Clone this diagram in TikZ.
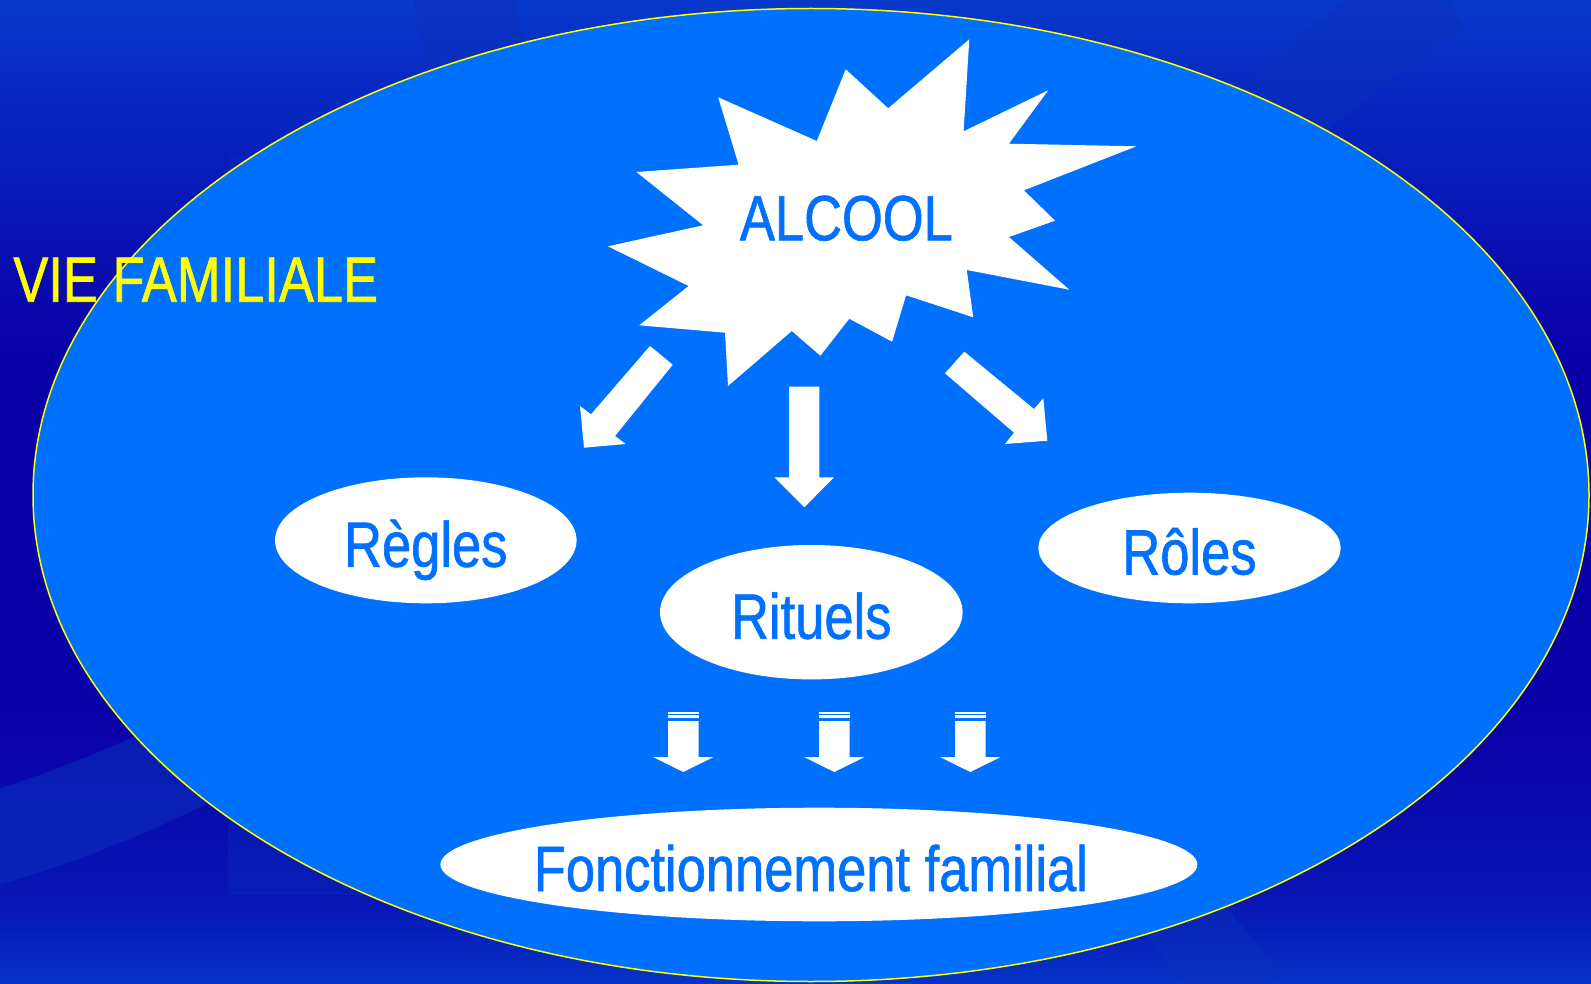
\documentclass[tikz,border=0pt]{standalone}
\usepackage{fontspec}
\newfontfamily\slidefont[FakeStretch=0.82, FakeBold=1]{Liberation Sans}
\usepackage{tikz}
\usetikzlibrary{shapes.geometric}
\usepackage{xcolor}
\definecolor{slideblue}{RGB}{0, 112, 255}
\definecolor{bgtop}{RGB}{6, 56, 200}
\definecolor{bgupper}{RGB}{8, 30, 188}
\definecolor{bgmid}{RGB}{10, 0, 168}
\definecolor{bglower}{RGB}{8, 22, 180}
\definecolor{bgbot}{RGB}{5, 52, 198}
\definecolor{bandblue}{RGB}{10, 48, 186}
\definecolor{titleyellow}{RGB}{255, 255, 0}
\pgfdeclareverticalshading{slidebg}{100bp}{color(0bp)=(bgbot); color(25bp)=(bgbot); color(29bp)=(bglower); color(39bp)=(bgmid); color(57bp)=(bgmid); color(67bp)=(bgupper); color(75bp)=(bgtop); color(100bp)=(bgtop)}

\begin{document}
\begin{tikzpicture}[
            x=1pt, y=-1pt,
            bigfont/.style={font=\slidefont\fontsize{64}{70}\selectfont},
            oval/.style={
                ellipse,
                fill=white,
                text=slideblue,
                inner sep=0pt,
                text height=53pt,
                text depth=0pt,
                bigfont
            },
            band/.style={draw=bandblue, draw opacity=0.55, line width=#1},
            blockarrow/.style={fill=white}
        ]

            \useasboundingbox (0,0) rectangle (1591,984);

            % Background
            \begin{scope}[y=1pt]
                \shade[shading=slidebg] (0,0) rectangle (1591,-984);
            \end{scope}
            \begin{scope}
                \clip (0,0) rectangle (1591,984);
                \fill[bandblue, opacity=0.3] (228,156) rectangle (1000,895);
                \draw[band=92pt] (-20,842) .. controls (100,810) and (250,740) .. (400,640);
                \draw[band=90pt] (1150,230) .. controls (1250,130) and (1350,50) .. (1440,-10);
                \draw[band=80pt] (1100,820) .. controls (1170,900) and (1210,950) .. (1250,1000);
                \draw[band=100pt] (462,-10) -- (490,120);
            \end{scope}

            % Nodes
            \node[ellipse, draw=titleyellow, line width=1.5pt, fill=slideblue,
                  minimum width=1556pt, minimum height=973pt, inner sep=0pt] (famille) at (811,495) {};

            \fill[white] (969.3,39.3) -- (888.2,108.3) -- (845.7,69.3) -- (816.8,141)
                -- (718.2,97.3) -- (738.6,164.7) -- (636.4,172) -- (703.2,225.3)
                -- (607.9,246.3) -- (688.6,286) -- (639.3,325.3) -- (725,332.7)
                -- (728,386) -- (791.8,331) -- (820.4,355.7) -- (849.3,318.7)
                -- (892.1,341.7) -- (906.1,295.3) -- (973.2,317.3) -- (966.8,270)
                -- (1069.3,289.7) -- (1008.9,237) -- (1055,220.7) -- (1023.9,190.3)
                -- (1136.4,146.3) -- (1008.9,143.7) -- (1048.2,90.3) -- (963.6,131.3) -- cycle;
            \node[bigfont, text=slideblue, anchor=base] (alcool) at (846.4,240.3) {ALCOOL};

            \node[bigfont, text=titleyellow, anchor=base] (vie) at (195.7,301.7) {VIE FAMILIALE};

            \node[oval, minimum width=301.6pt, minimum height=126pt] (regles) at (425.8,540.3) {Règles};
            \node[oval, minimum width=302.6pt, minimum height=134.4pt] (rituels) at (811.3,612.2) {Rituels};
            \node[oval, minimum width=302.4pt, minimum height=110.6pt] (roles) at (1189.5,548) {Rôles};
            \node[oval, inner xsep=-25pt, minimum width=757pt, minimum height=113.6pt] (fonct) at (818.9,864.5) {Fonctionnement familial\kern16pt};

            % Arrows
            \fill[blockarrow] (650,346) -- (672.7,364.7) -- (615,436) -- (625.7,444)
                -- (584,447.7) -- (580,406) -- (591,414.3) -- cycle;
            \fill[blockarrow] (789,386.7) -- (819.3,386.7) -- (819.3,477.3) -- (834,477.3)
                -- (804.3,507.3) -- (774.3,477.3) -- (789,477.3) -- cycle;
            \fill[blockarrow] (964.3,351.7) -- (1034,409) -- (1043.3,398.3) -- (1047.3,440.7)
                -- (1005,444) -- (1014,432.7) -- (945,373.3) -- cycle;

            \foreach \sx in {683.3, 834.3, 970.3} {
                \fill[blockarrow] ({\sx-15.5},712) rectangle ({\sx+16},714);
                \fill[blockarrow] ({\sx-15.5},715.3) rectangle ({\sx+16},718.3);
                \fill[blockarrow] ({\sx-15.3},721) -- ({\sx+15.3},721) -- ({\sx+15.3},757)
                    -- ({\sx+30.3},757) -- (\sx,772) -- ({\sx-30.3},757) -- ({\sx-15.3},757) -- cycle;
            }
        \end{tikzpicture}
\end{document}
